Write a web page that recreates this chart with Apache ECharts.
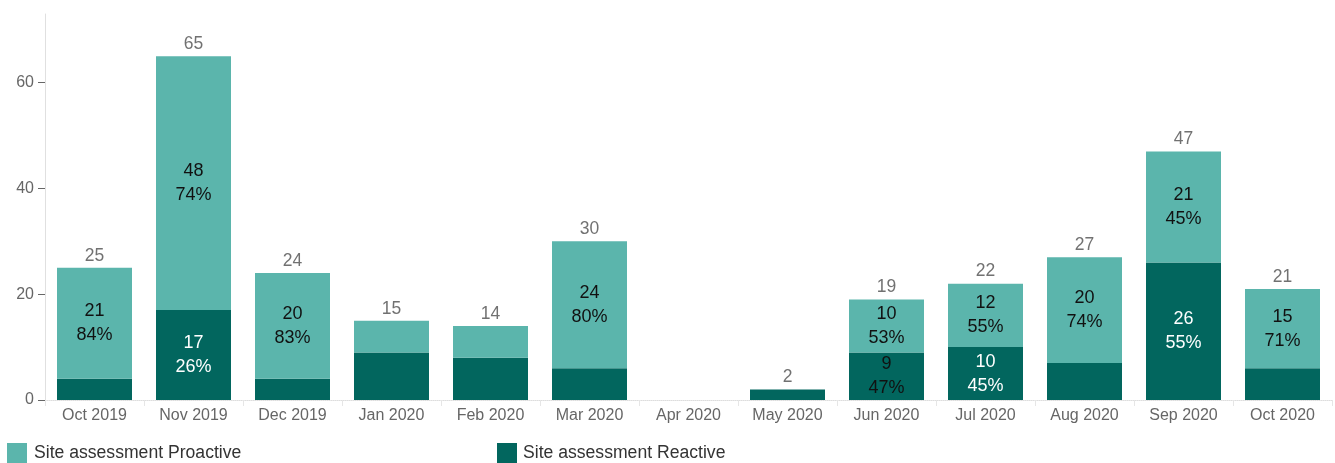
<!DOCTYPE html>
<html>
<head>
<meta charset="utf-8">
<script src="https://cdn.jsdelivr.net/npm/echarts@6/dist/echarts.min.js"></script>
<style>
html,body{margin:0;padding:0;background:#fff;}
#chart{width:1335px;height:463px;}
</style>
</head>
<body>
<div id="chart"></div>
<script>
const categories = ['Oct 2019','Nov 2019','Dec 2019','Jan 2020','Feb 2020','Mar 2020','Apr 2020','May 2020','Jun 2020','Jul 2020','Aug 2020','Sep 2020','Oct 2020'];
const proactive = [21, 48, 20, 6, 6, 24, 0, 0, 10, 12, 20, 21, 15];
const reactive  = [4, 17, 4, 9, 8, 6, 0, 2, 9, 10, 7, 26, 6];
const proactiveLabelShown = [true, true, true, false, false, true, false, false, true, true, true, true, true];
const reactiveLabelShown  = [false, true, false, false, false, false, false, false, true, true, false, true, false];
const yTicks = [0, 20, 40, 60];

const totals = categories.map((c, i) => proactive[i] + reactive[i]);
const FONT = '"Liberation Sans", Arial, sans-serif';
const C_PRO = '#5BB5AC';
const C_REA = '#02665E';

function segLabel(vals, i) {
  const t = totals[i];
  return vals[i] + '\n' + Math.round(vals[i] / t * 100) + '%';
}

const chart = echarts.init(document.getElementById('chart'));
chart.setOption({
  animation: false,
  textStyle: { fontFamily: FONT },
  grid: { left: 45, right: 3, top: 14, bottom: 63 },
  legend: [
    {
      left: 7, bottom: 0, padding: 0, itemWidth: 20, itemHeight: 20, itemGap: 10,
      data: ['Site assessment Proactive'],
      icon: 'rect',
      textStyle: { fontSize: 17.6, color: '#333', fontFamily: FONT, padding: [0, 0, 0, 2] }
    },
    {
      left: 497, bottom: 0, padding: 0, itemWidth: 20, itemHeight: 20, itemGap: 10,
      data: ['Site assessment Reactive'],
      icon: 'rect',
      textStyle: { fontSize: 17.6, color: '#333', fontFamily: FONT, padding: [0, 0, 0, 1] }
    }
  ],
  xAxis: {
    type: 'category',
    data: categories,
    axisLine: { show: true, lineStyle: { color: '#ddd', type: 'dotted', width: 1 } },
    axisTick: { show: true, alignWithLabel: false, length: 6, lineStyle: { color: '#e6e6e6' } },
    axisLabel: { fontSize: 16, color: '#666', margin: 8, fontFamily: FONT, interval: 0 }
  },
  yAxis: {
    type: 'value',
    min: 0, max: 73, interval: 20,
    axisLine: { show: true, lineStyle: { color: '#e0e0e0' } },
    axisTick: { show: true, length: 7, lineStyle: { color: '#666' } },
    splitLine: { show: false },
    axisLabel: { fontSize: 16, color: '#666', margin: 11, fontFamily: FONT, showMaxLabel: false,
      formatter: v => yTicks.includes(v) ? String(v) : '' }
  },
  series: [
    {
      name: 'Site assessment Reactive',
      type: 'bar', stack: 'a', barWidth: 75,
      itemStyle: { color: C_REA },
      data: reactive.map((v, i) => ({
        value: v,
        label: {
          show: reactiveLabelShown[i],
          position: 'inside',
          fontSize: 18, lineHeight: 24, fontFamily: FONT,
          color: i === 8 ? '#111' : '#fff',
          formatter: () => segLabel(reactive, i)
        }
      }))
    },
    {
      name: 'Site assessment Proactive',
      type: 'bar', stack: 'a', barWidth: 75,
      itemStyle: { color: C_PRO },
      data: proactive.map((v, i) => ({
        value: v,
        label: {
          show: proactiveLabelShown[i],
          position: 'inside',
          fontSize: 18, lineHeight: 24, fontFamily: FONT,
          color: '#111',
          formatter: () => segLabel(proactive, i)
        }
      }))
    },
    {
      name: 'Total',
      type: 'scatter',
      symbolSize: 0,
      silent: true,
      data: totals.map(v => ({ value: v, label: { show: v > 0 } })),
      label: {
        position: 'top', distance: 3, fontSize: 17.5, color: '#4d4d4d', fontFamily: FONT,
        formatter: p => String(p.value)
      }
    }
  ]
});
</script>
</body>
</html>
